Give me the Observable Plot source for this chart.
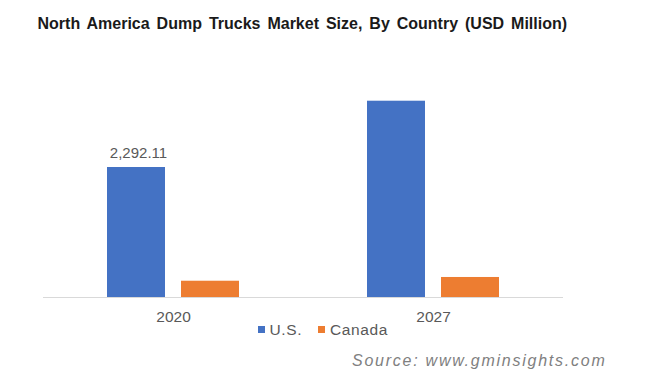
<!DOCTYPE html>
<html><head><meta charset="utf-8">
<script src="https://cdn.jsdelivr.net/npm/d3@7"></script>
<script src="https://cdn.jsdelivr.net/npm/@observablehq/plot@0.6"></script>
<style>
html,body{margin:0;padding:0;background:#fff}
#wrap{position:relative;width:668px;height:381px;overflow:hidden;font-family:"Liberation Sans",Arial,sans-serif;}
#wrap svg{position:absolute;left:0;top:0}
.title{position:absolute;left:37.5px;top:16px;font-size:16px;line-height:16px;font-weight:bold;color:#1a1a1a;word-spacing:2.5px;white-space:nowrap}
.source{position:absolute;left:352px;top:353px;font-size:16px;line-height:16px;font-style:italic;color:#808080;letter-spacing:1.75px;white-space:nowrap}
.legend{position:absolute;left:257.5px;top:321.5px;font-size:15.5px;line-height:15.5px;color:#595959;white-space:nowrap;display:flex;align-items:center}
.legend .sw{display:inline-block;width:7px;height:7px;margin-right:5px}
.legend .item{display:flex;align-items:center;margin-right:16px;letter-spacing:0.6px}
</style></head><body><div id="wrap"></div>
<script>
const years = ["2020", "2027"];
const countries = ["U.S.", "Canada"];
const usValues = [2292.11, 3461];
const canadaValues = [287, 353];
const colors = ["#4472C4", "#ED7D31"];
const labeled = [{year: "2020", country: "U.S."}];
const titleText = "North America Dump Trucks Market Size, By Country (USD Million)";
const sourceText = "Source: www.gminsights.com";

const data = years.flatMap((y, i) => [
  {year: y, country: countries[0], value: usValues[i]},
  {year: y, country: countries[1], value: canadaValues[i]}
]);
const isLabeled = d => labeled.some(l => l.year === d.year && l.country === d.country);

const plot = Plot.plot({
  width: 668,
  height: 381,
  marginLeft: 43,
  marginRight: 105,
  marginTop: 70.14,
  marginBottom: 84,
  facet: {data, x: "year", marginTop: 0, marginRight: 0, marginBottom: 0, marginLeft: 0},
  fx: {domain: years, padding: 0, label: null, axis: "bottom", tickSize: 0, tickPadding: 13},
  x: {domain: countries, paddingInner: 0.22, paddingOuter: 0.85, axis: null},
  y: {domain: [0, 4000], axis: null},
  color: {domain: countries, range: colors},
  style: {fontFamily: "'Liberation Sans', Arial, sans-serif", fontSize: "15.5px", color: "#595959", background: "transparent"},
  marks: [
    Plot.barY(data, {x: "country", y: "value", fill: "country"}),
    Plot.ruleY([0], {stroke: "#d9d9d9", strokeWidth: 1}),
    Plot.text(data, {filter: isLabeled, x: "country", y: "value", text: d => d3.format(",.2f")(d.value), dx: 2, dy: -10, lineAnchor: "bottom", fill: "#595959", fontSize: 15})
  ]
});

const wrap = document.getElementById("wrap");
wrap.appendChild(plot);

const t = document.createElement("div");
t.className = "title"; t.textContent = titleText; wrap.appendChild(t);

const color = plot.scale("color");
const lg = document.createElement("div");
lg.className = "legend";
color.domain.forEach((c, i) => {
  const it = document.createElement("span"); it.className = "item";
  const sw = document.createElement("span"); sw.className = "sw"; sw.style.background = color.range[i];
  it.appendChild(sw);
  it.appendChild(document.createTextNode(c));
  lg.appendChild(it);
});
wrap.appendChild(lg);

const s = document.createElement("div");
s.className = "source"; s.textContent = sourceText; wrap.appendChild(s);
</script>
</body></html>
